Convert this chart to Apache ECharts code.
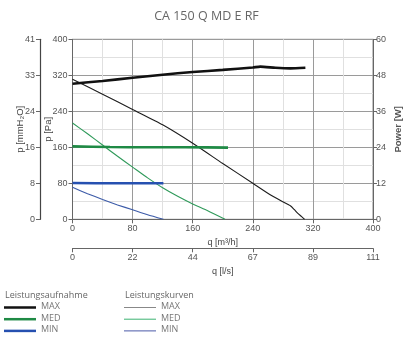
<!DOCTYPE html>
<html>
<head>
<meta charset="utf-8">
<script src="https://cdn.jsdelivr.net/npm/echarts@6/dist/echarts.min.js"></script>
<style>
html,body{margin:0;padding:0;background:#fff;}
#c{width:413px;height:340px;}
</style>
</head>
<body>
<div id="c"></div>
<script>
// ---- data ----
const title = 'CA 150 Q MD E RF';
// pressure curves [q m3/h, p Pa]
const pMax = [[0,311],[40,278],[80,244],[120,210],[160,169],[200,124],[240,80],[260,58],[280,39],[290,30],[295,22],[300,13],[305,6],[309,0]];
const pMed = [[0,214],[20,190],[40,165],[60,140],[80,116],[100,92],[120,70],[140,51],[160,34],[180,19],[203,0]];
const pMin = [[0,71],[20,57],[40,44],[60,32],[80,21],[100,10],[121,0]];
// power curves [q m3/h, W]
const wMax = [[0,45.2],[40,46.1],[80,47.2],[120,48.2],[160,49.1],[200,49.8],[240,50.6],[250,50.9],[270,50.5],[290,50.3],[310,50.5]];
const wMed = [[0,24.3],[50,24.1],[100,24.0],[150,24.0],[207,23.9]];
const wMin = [[0,12.1],[60,12.0],[121,12.0]];
// tick labels
const mmLabels = ['0','8','16','24','33','41'];
const lsLabels = ['0','22','44','67','89','111'];
const legendLeft = ['Leistungsaufnahme','MAX','MED','MIN'];
const legendRight = ['Leistungskurven','MAX','MED','MIN'];

const chart = echarts.init(document.getElementById('c'));
const lab = {color:'#555', fontSize:9, fontFamily:'Liberation Sans'};
const axLine = {show:true, onZero:false, lineStyle:{color:'#666', width:1}};
const tick = {show:true, length:4, lineStyle:{color:'#666'}};
const nameStyle = {color:'#444', fontSize:9.5, fontFamily:'Liberation Sans'};

const C = {
  blk:'#111111', blkThin:'#1c1c1c',
  grn:'#1f8a45', grnThin:'#2f9a5a',
  blu:'#2650b0', bluThin:'#3b5aa8'
};

function line(data, color, width, yi) {
  return {type:'line', data:data, xAxisIndex:0, yAxisIndex:yi, showSymbol:false, symbol:'none',
    smooth:0.2, lineStyle:{color:color, width:width}, silent:true, animation:false};
}

const legendColors = [[C.blk,C.grn,C.blu],['#888888','#3cb371','#4a5aa8']];

const graphics = [];
[legendLeft, legendRight].forEach((arr, ci) => {
  const x0 = ci === 0 ? 4 : 124;
  graphics.push({type:'text', left:x0+1, top:291, style:{text:arr[0], fill:'#666', fontSize:9, fontFamily:'Open Sans'}});
  for (let i = 1; i < 4; i++) {
    const y = 307.5 + (i-1)*11.7;
    graphics.push({type:'line', shape:{x1:x0, y1:y, x2:x0+32, y2:y}, style:{stroke:legendColors[ci][i-1], lineWidth: ci===0?2.5:1}});
    graphics.push({type:'text', left:x0+37, top:y-5.5, style:{text:arr[i], fill:'#777', fontSize:9, fontFamily:'Open Sans'}});
  }
});

chart.setOption({
  animation:false,
  backgroundColor:'#fff',
  title:{text:title, left:'center', top:5, textStyle:{color:'#666', fontSize:12.5, fontWeight:'normal', fontFamily:'Open Sans'}},
  grid:{left:72.5, right:40, top:39.3, bottom:120.7, show:true, borderColor:'#888', borderWidth:1},
  xAxis:[
    {type:'value', min:0, max:400, interval:80, position:'bottom',
     axisLine:axLine, axisTick:tick, axisLabel:Object.assign({margin:5}, lab),
     splitLine:{show:true, lineStyle:{color:'#9a9a9a', width:1}},
     minorTick:{show:false, splitNumber:2}, minorSplitLine:{show:true, lineStyle:{color:'#e0e0e0'}},
     name:'q [m³/h]', nameLocation:'middle', nameGap:19, nameTextStyle:{color:'#444', fontSize:9, fontFamily:'Liberation Sans'}},
    {type:'value', min:0, max:400, interval:80, position:'bottom', offset:29,
     axisLine:axLine, axisTick:tick, axisLabel:Object.assign({margin:5, formatter:(v)=>lsLabels[Math.round(v/80)]}, lab),
     splitLine:{show:false},
     name:'q [l/s]', nameLocation:'middle', nameGap:19, nameTextStyle:{color:'#444', fontSize:9, fontFamily:'Liberation Sans'}}
  ],
  yAxis:[
    {type:'value', min:0, max:400, interval:80, position:'left',
     axisLine:axLine, axisTick:tick, axisLabel:Object.assign({margin:5}, lab),
     splitLine:{show:true, lineStyle:{color:'#9a9a9a', width:1}},
     minorTick:{show:false, splitNumber:2}, minorSplitLine:{show:true, lineStyle:{color:'#e0e0e0'}},
     name:'p [Pa]', nameLocation:'middle', nameGap:19, nameMoveOverlap:false, nameRotate:90, nameTextStyle:nameStyle},
    {type:'value', min:0, max:400, interval:80, position:'left', offset:32.5,
     axisLine:{show:true, onZero:false, lineStyle:{color:'#444', width:1.2}}, axisTick:tick,
     axisLabel:Object.assign({margin:5, formatter:(v)=>mmLabels[Math.round(v/80)]}, lab),
     splitLine:{show:false},
     name:'p [mmH₂O]', nameLocation:'middle', nameGap:15, nameMoveOverlap:false, nameRotate:90, nameTextStyle:nameStyle},
    {type:'value', min:0, max:60, interval:12, position:'right',
     axisLine:axLine, axisTick:tick, axisLabel:Object.assign({margin:3}, lab),
     splitLine:{show:false},
     name:'Power [W]', nameLocation:'middle', nameGap:20, nameMoveOverlap:false, nameRotate:90,
     nameTextStyle:Object.assign({}, nameStyle, {fontWeight:'bold', color:'#555'})}
  ],
  series:[
    line(pMax, C.blkThin, 1.1, 0),
    line(pMed, C.grnThin, 1.1, 0),
    line(pMin, C.bluThin, 1.1, 0),
    line(wMax, C.blk, 2.6, 2),
    line(wMed, C.grn, 2.6, 2),
    line(wMin, C.blu, 2.6, 2)
  ],
  graphic:graphics
});
</script>
</body>
</html>
